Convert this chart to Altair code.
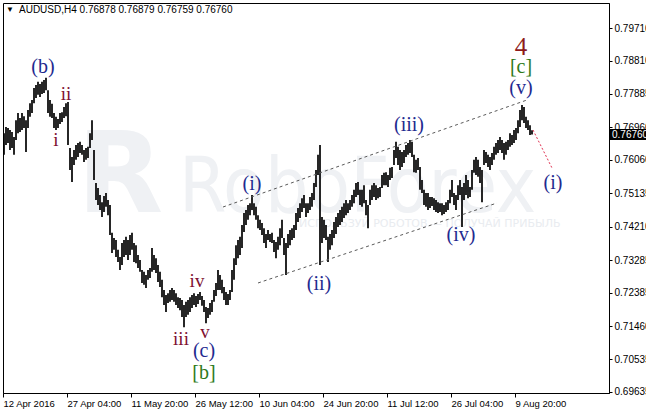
import altair as alt
import pandas as pd

# AUDUSD H4 bars, highs and lows in pips (price * 10000), oldest first
HIGH = [
    7680, 7697, 7694, 7689, 7683, 7669, 7716, 7736, 7722, 7736,
    7727, 7716, 7744, 7763, 7772, 7805, 7813, 7822, 7816, 7822,
    7827, 7833, 7799, 7772, 7761, 7736, 7725, 7719, 7736, 7738,
    7752, 7763, 7766, 7639, 7614, 7633, 7647, 7653, 7656, 7647,
    7633, 7639, 7642, 7680, 7716, 7633, 7542, 7528, 7509, 7489,
    7506, 7514, 7495, 7481, 7404, 7390, 7384, 7357, 7337, 7376,
    7384, 7393, 7384, 7398, 7404, 7376, 7370, 7343, 7329, 7301,
    7296, 7287, 7301, 7307, 7362, 7343, 7334, 7315, 7296, 7274,
    7246, 7232, 7237, 7246, 7251, 7246, 7237, 7226, 7224, 7218,
    7204, 7213, 7218, 7226, 7232, 7237, 7229, 7235, 7240, 7229,
    7218, 7199, 7196, 7210, 7218, 7246, 7265, 7301, 7287, 7274,
    7254, 7240, 7235, 7246, 7301, 7334, 7370, 7384, 7393, 7426,
    7459, 7467, 7481, 7486, 7509, 7486, 7476, 7453, 7440, 7431,
    7417, 7401, 7412, 7401, 7404, 7384, 7379, 7393, 7417, 7440,
    7390, 7376, 7401, 7412, 7417, 7426, 7459, 7473, 7486, 7500,
    7509, 7486, 7486, 7503, 7514, 7542, 7578, 7620, 7647, 7448,
    7440, 7426, 7393, 7401, 7412, 7434, 7448, 7459, 7467, 7476,
    7486, 7495, 7486, 7495, 7509, 7523, 7542, 7545, 7523, 7523,
    7536, 7495, 7481, 7523, 7536, 7542, 7536, 7528, 7531, 7564,
    7570, 7572, 7564, 7584, 7586, 7633, 7656, 7642, 7633, 7628,
    7633, 7647, 7653, 7661, 7656, 7620, 7606, 7611, 7586, 7550,
    7523, 7514, 7514, 7503, 7503, 7500, 7495, 7489, 7486, 7486,
    7481, 7489, 7495, 7523, 7550, 7514, 7509, 7536, 7550, 7531,
    7542, 7564, 7550, 7531, 7578, 7606, 7614, 7606, 7586, 7578,
    7633, 7628, 7620, 7614, 7625, 7642, 7653, 7661, 7669, 7661,
    7653, 7656, 7661, 7680, 7675, 7689, 7694, 7716, 7744, 7758,
    7752, 7725, 7716, 7702, 7688,
]
LOW = [
    7620, 7647, 7653, 7633, 7639, 7620, 7661, 7680, 7683, 7689,
    7694, 7628, 7694, 7725, 7736, 7763, 7777, 7786, 7780, 7788,
    7791, 7799, 7736, 7725, 7722, 7694, 7689, 7694, 7705, 7711,
    7722, 7727, 7647, 7578, 7545, 7592, 7606, 7614, 7625, 7620,
    7600, 7606, 7611, 7639, 7661, 7550, 7495, 7481, 7467, 7448,
    7462, 7476, 7453, 7398, 7348, 7357, 7337, 7323, 7301, 7315,
    7337, 7343, 7329, 7343, 7357, 7323, 7320, 7307, 7296, 7265,
    7260, 7251, 7274, 7279, 7296, 7301, 7293, 7268, 7254, 7226,
    7204, 7185, 7210, 7213, 7218, 7213, 7204, 7196, 7190, 7171,
    7143, 7171, 7177, 7185, 7196, 7204, 7199, 7207, 7218, 7202,
    7185, 7154, 7168, 7177, 7185, 7213, 7229, 7246, 7246, 7237,
    7218, 7204, 7204, 7218, 7240, 7274, 7315, 7334, 7343, 7362,
    7406, 7426, 7440, 7453, 7467, 7453, 7440, 7417, 7412, 7398,
    7376, 7362, 7384, 7379, 7376, 7351, 7334, 7357, 7370, 7390,
    7343, 7287, 7362, 7370, 7384, 7390, 7412, 7434, 7445, 7462,
    7473, 7448, 7459, 7467, 7476, 7495, 7531, 7564, 7315, 7376,
    7390, 7384, 7323, 7357, 7370, 7390, 7401, 7420, 7426, 7434,
    7445, 7453, 7459, 7467, 7476, 7486, 7503, 7509, 7481, 7476,
    7486, 7453, 7417, 7481, 7495, 7503, 7495, 7500, 7503, 7528,
    7536, 7536, 7531, 7550, 7556, 7592, 7611, 7592, 7578, 7586,
    7597, 7614, 7620, 7625, 7614, 7572, 7570, 7578, 7523, 7514,
    7481, 7476, 7467, 7473, 7478, 7467, 7462, 7459, 7462, 7453,
    7456, 7462, 7467, 7486, 7503, 7481, 7467, 7495, 7509, 7420,
    7495, 7509, 7500, 7503, 7523, 7570, 7564, 7559, 7542, 7489,
    7592, 7597, 7586, 7578, 7592, 7606, 7620, 7625, 7633, 7625,
    7606, 7620, 7633, 7642, 7647, 7653, 7661, 7680, 7697, 7716,
    7708, 7694, 7689, 7675, 7676,
]

X_LABELS = ["12 Apr 2016", "27 Apr 04:00", "11 May 20:00", "26 May 12:00",
            "10 Jun 04:00", "24 Jun 20:00", "11 Jul 12:00", "26 Jul 04:00",
            "9 Aug 20:00"]
X_LABEL_AT = [-0.5, 31.5, 63.5, 95.5, 127.5, 159.5, 191.5, 223.5, 255.5]
Y_TICKS = [0.69635, 0.70535, 0.71460, 0.72385, 0.73285, 0.74210,
           0.75135, 0.76060, 0.76960, 0.77885, 0.78810, 0.79710]
LAST_PRICE = 0.76760
HEADER = "AUDUSD,H4  0.76878 0.76879 0.76759 0.76760"

# Elliott wave marks: text, bar position, price level, colour, font size
WAVE_TEXT = ["(b)", "ii", "i", "iv", "iii", "v", "(c)", "[b]", "(i)", "(ii)",
             "(iii)", "(iv)", "(v)", "[c]", "4", "(i)"]
WAVE_BAR = [19.5, 31, 26, 96.5, 88.5, 100.5, 100, 100, 124, 157.5,
            202.5, 228.5, 258.5, 258.5, 258.5, 274.5]
WAVE_PRICE = [0.7863, 0.7788, 0.7661, 0.7271, 0.7110, 0.7130, 0.7077, 0.7016,
              0.7539, 0.7262, 0.7703, 0.7398, 0.7805, 0.7863, 0.7918, 0.7542]
NAVY, MAROON, GREEN = "#1f2a8f", "#7e1030", "#2f7a1a"
WAVE_COLOR = [NAVY, MAROON, MAROON, MAROON, MAROON, MAROON, NAVY, GREEN,
              NAVY, NAVY, NAVY, NAVY, NAVY, GREEN, "#8e1b1b", NAVY]
WAVE_SIZE = [20, 19, 19, 19, 19, 19, 20, 20, 20, 20, 20, 20, 20, 20, 25, 20]

# trend channel and projected move
CHANNEL_ID = ["upper", "upper", "lower", "lower"]
CHANNEL_BAR = [109.5, 261.5, 127, 246.5]
CHANNEL_PRICE = [0.74755, 0.77717, 0.72652, 0.74866]
PROJ_BAR = [264.5, 274]
PROJ_PRICE = [0.76887, 0.75835]

bars = pd.DataFrame({
    "bar": list(range(len(HIGH))),
    "high": [h / 10000 for h in HIGH],
    "low": [v / 10000 for v in LOW],
})
waves = pd.DataFrame({"text": WAVE_TEXT, "bar": WAVE_BAR, "price": WAVE_PRICE,
                      "color": WAVE_COLOR, "size": WAVE_SIZE})
channel = pd.DataFrame({"line": CHANNEL_ID, "bar": CHANNEL_BAR, "price": CHANNEL_PRICE})
proj = pd.DataFrame({"bar": PROJ_BAR, "price": PROJ_PRICE})
last = pd.DataFrame({"price": [LAST_PRICE], "label": [f"{LAST_PRICE:.5f}"]})
one = pd.DataFrame({"a": [0]})

x_scale = alt.Scale(domain=[-0.5, 302.5], nice=False, zero=False)
y_scale = alt.Scale(domain=[0.69607, 0.80402], nice=False, zero=False)

label_expr = "[" + ",".join(f"'{s}'" for s in X_LABELS) + "][round((datum.value + 0.5) / 32)]"

x_axis = alt.Axis(values=X_LABEL_AT, labelExpr=label_expr, title=None, grid=False,
                  tickSize=4, tickColor="black", domainColor="black",
                  labelAlign="left", labelBaseline="top", labelPadding=1,
                  labelFlush=False, labelOverlap=False, labelColor="black",
                  labelFont="Liberation Sans", labelFontSize=9.5)
y_axis = alt.Axis(values=Y_TICKS, format=".5f", orient="right", title=None, grid=False,
                  tickSize=3, tickColor="black", domainColor="black",
                  labelAlign="left", labelPadding=2, labelFlush=False,
                  labelOverlap=False, labelColor="black",
                  labelFont="Liberation Sans", labelFontSize=10)

# every layer carries the same axis so the merged axes keep their settings
X = lambda f: alt.X(f, scale=x_scale, axis=x_axis)
Y = lambda f: alt.Y(f, scale=y_scale, axis=y_axis)

WM = "#eff1f4"
watermark_logo = alt.Chart(one).mark_text(
    text="R", font="DejaVu Sans", fontWeight="bold", fontSize=112,
    align="left", baseline="alphabetic", color=WM
).encode(x=alt.value(74), y=alt.value(209))
watermark = alt.Chart(one).mark_text(
    text="RoboForex", font="DejaVu Sans Condensed, DejaVu Sans", fontSize=76,
    align="left", baseline="alphabetic", color=WM
).encode(x=alt.value(176), y=alt.value(209))
watermark_sub = alt.Chart(one).mark_text(
    text="ИСПОЛЬЗУЙ РОБОТОВ — ПОЛУЧАЙ ПРИБЫЛЬ", font="DejaVu Sans", fontSize=11,
    align="left", baseline="middle", color="#e9ecf0"
).encode(x=alt.value(296), y=alt.value(221))

price_bars = alt.Chart(bars).mark_rule(color="black", strokeWidth=1.7).encode(
    x=X("bar:Q"), y=Y("low:Q"), y2="high:Q",
)

channel_lines = alt.Chart(channel).mark_line(
    color="#5a5a5a", strokeWidth=1, strokeDash=[3, 3]
).encode(x=X("bar:Q"), y=Y("price:Q"), detail="line:N")

proj_line = alt.Chart(proj).mark_line(
    color="#e0304f", strokeWidth=1, strokeDash=[2, 2]
).encode(x=X("bar:Q"), y=Y("price:Q"))

wave_labels = alt.Chart(waves).mark_text(
    font="Liberation Serif", baseline="middle", align="center"
).encode(
    x=X("bar:Q"), y=Y("price:Q"), text="text:N",
    color=alt.Color("color:N", scale=None),
    size=alt.Size("size:Q", scale=None),
)

price_tag = alt.Chart(last).mark_rule(color="black", strokeWidth=11).encode(
    x=alt.value(607), x2=alt.value(643), y=Y("price:Q"))
price_tag_text = alt.Chart(last).mark_text(
    color="white", align="left", baseline="middle",
    font="Liberation Sans", fontSize=10
).encode(x=alt.value(609), y=Y("price:Q"), text="label:N")

header_arrow = alt.Chart(one).mark_text(
    text="▼", fontSize=8, color="black", align="center", baseline="middle"
).encode(x=alt.value(7), y=alt.value(7))
header = alt.Chart(one).mark_text(
    text=HEADER, font="Liberation Sans", fontSize=10, color="black",
    align="left", baseline="middle"
).encode(x=alt.value(16), y=alt.value(7))

chart = alt.layer(
    watermark_logo, watermark, watermark_sub,
    price_bars, channel_lines, proj_line, wave_labels,
    price_tag, price_tag_text, header_arrow, header,
).properties(
    width=606, height=390,
    padding={"left": 3, "top": 3, "right": 37, "bottom": 21},
    autosize=alt.AutoSizeParams(type="none"),
    background="white",
).configure_view(stroke="black", strokeWidth=1)

chart.save("out.html", embed_options={"renderer": "svg", "actions": False})
